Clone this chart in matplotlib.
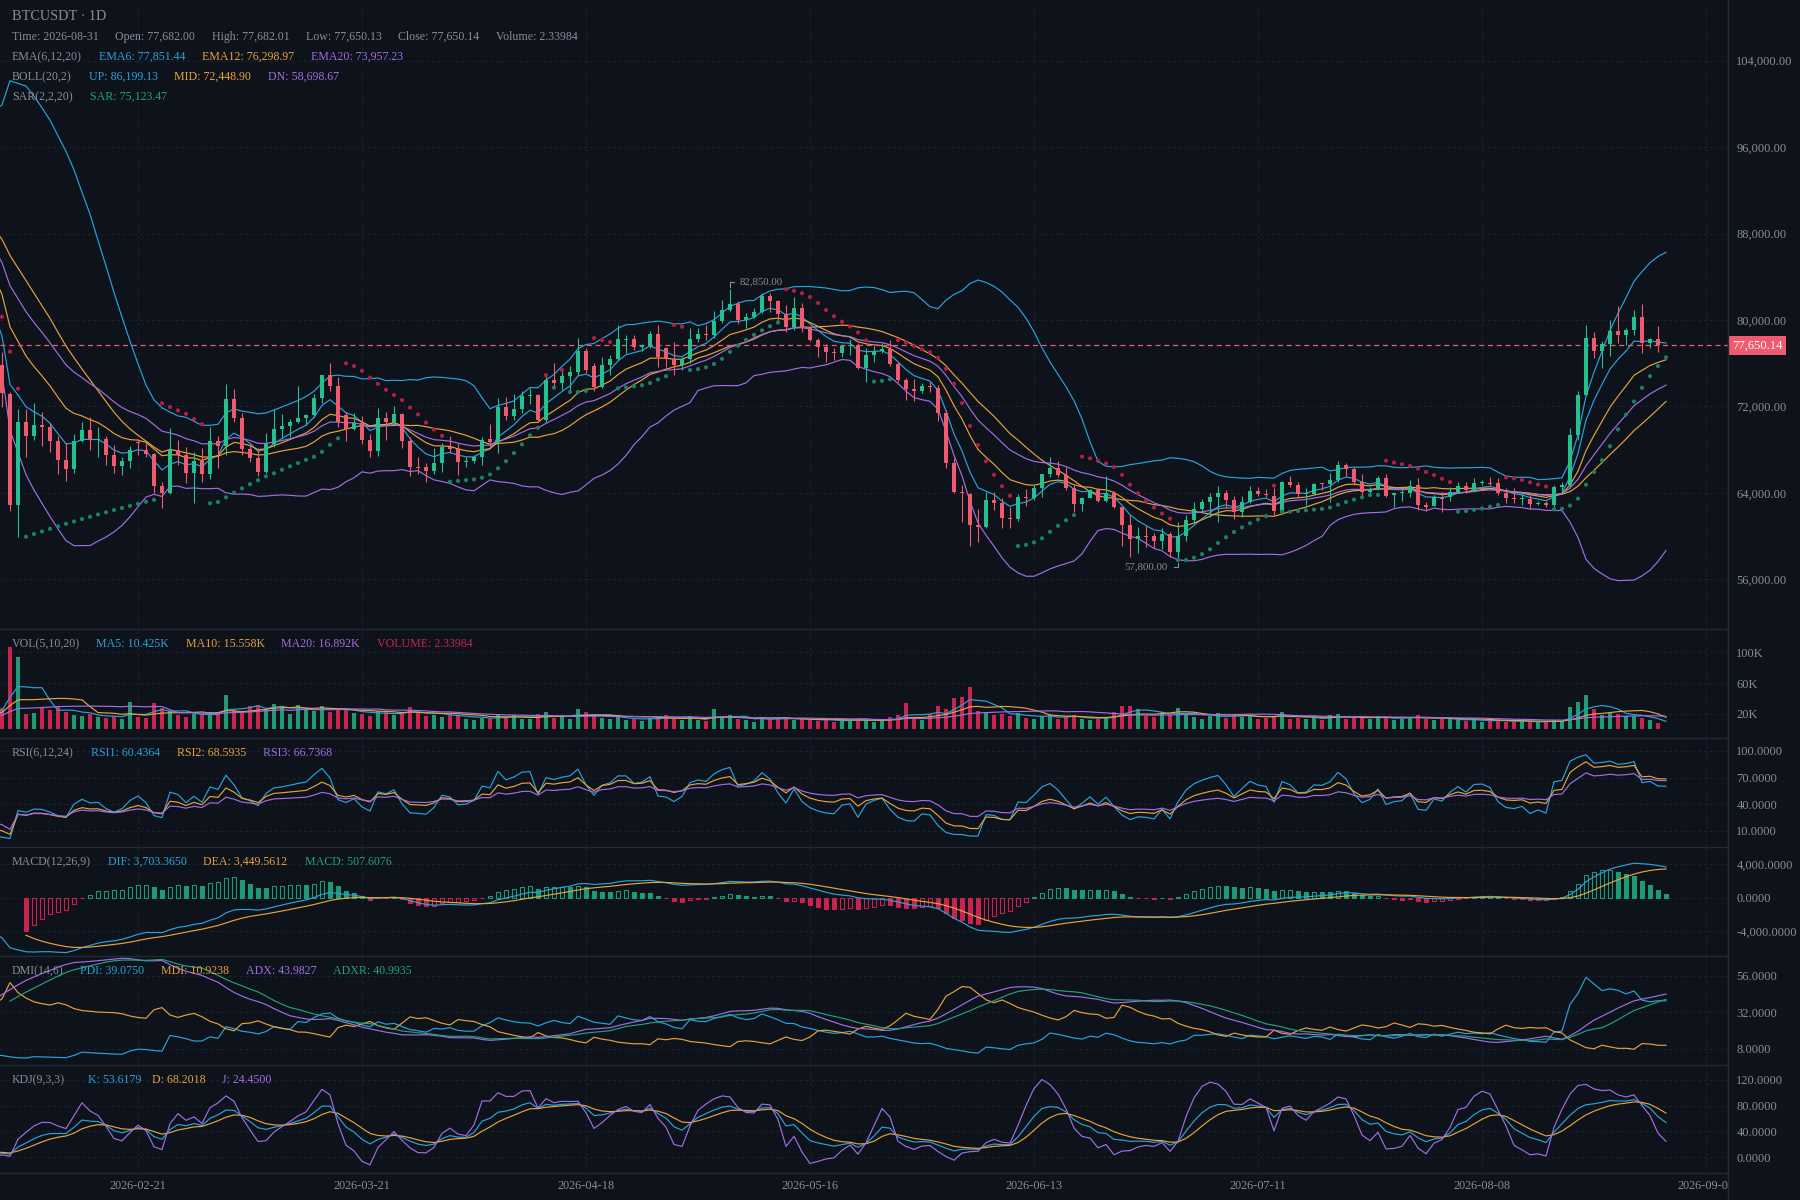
import numpy as np
import matplotlib
matplotlib.use('Agg')
import matplotlib.pyplot as plt
from matplotlib.lines import Line2D
from matplotlib.transforms import blended_transform_factory

# ---- data (prices in thousands USDT, volumes in K) ----
# candles before the visible window, only used to warm up the indicators
lead_open = [90.6, 91.2, 92.0, 91.5, 92.8, 93.5, 92.6, 93.9, 94.5, 93.7, 94.8, 93.6, 92.5, 93.8, 92.2,
             94.0, 93.1, 92.4, 93.0, 91.5, 90.4, 90.6, 89.0, 89.2, 87.5, 86.2, 83.9, 82.1, 80.2, 78.4]
lead_high = [91.9, 92.7, 92.6, 93.4, 94.2, 94.0, 94.6, 95.3, 95.0, 95.6, 95.3, 94.1, 94.5, 94.3, 94.7,
             94.6, 93.8, 93.7, 93.5, 92.1, 91.4, 91.1, 90.1, 89.8, 88.3, 86.9, 84.6, 82.9, 81.0, 79.1]
lead_low = [90.1, 90.8, 90.9, 91.1, 92.3, 92.0, 92.2, 93.4, 93.1, 93.3, 93.0, 91.8, 92.0, 91.6, 91.9,
            92.5, 91.7, 91.9, 90.9, 89.7, 89.8, 88.4, 88.3, 86.9, 85.6, 83.2, 81.4, 79.6, 77.8, 75.2]
lead_close = [91.2, 92.0, 91.5, 92.8, 93.5, 92.6, 93.9, 94.5, 93.7, 94.8, 93.6, 92.5, 93.8, 92.2, 94.0,
              93.1, 92.4, 93.0, 91.5, 90.4, 90.6, 89.0, 89.2, 87.5, 86.2, 83.9, 82.1, 80.2, 78.4, 75.84]
lead_vol = [12, 13, 11, 14, 12, 13, 12, 15, 13, 12, 14, 13, 12, 15, 14,
            16, 15, 14, 17, 16, 15, 17, 19, 18, 21, 22, 20, 24, 23, 26]

first_day = '2026-02-04'

opens = [
    75.84, 73.16, 62.92, 70.57, 69.30, 70.29, 70.10, 68.84, 67.05, 66.22,
    68.78, 69.83, 68.90, 68.98, 67.51, 66.53, 66.96, 68.75, 67.98, 67.60,
    64.65, 64.03, 67.98, 67.51, 65.88, 66.96, 65.79, 68.80, 68.38, 72.69,
    70.97, 68.10, 67.27, 65.97, 68.50, 69.92, 70.20, 70.56, 70.94, 71.20,
    72.82, 74.91, 73.90, 71.20, 69.95, 70.50, 68.90, 67.90, 70.94, 70.60,
    71.30, 68.84, 66.44, 66.44, 66.03, 66.74, 68.28, 68.04, 66.90, 66.96,
    67.30, 68.96, 68.75, 71.98, 71.12, 71.77, 72.97, 73.06, 70.75, 74.45,
    74.20, 74.82, 75.16, 77.16, 75.75, 73.83, 75.84, 76.39, 78.15, 78.24,
    77.47, 77.66, 78.70, 77.38, 76.42, 75.84, 76.36, 78.24, 78.70, 78.58,
    79.90, 80.92, 81.51, 80.00, 80.30, 80.77, 82.25, 81.79, 80.55, 79.32,
    81.08, 79.32, 78.15, 77.47, 77.07, 76.92, 77.60, 77.69, 75.59, 76.76,
    77.13, 77.32, 75.93, 74.45, 73.62, 73.46, 73.90, 73.68, 71.37, 66.80,
    64.12, 63.91, 61.04, 60.89, 63.35, 63.10, 61.72, 61.56, 63.63, 63.54,
    64.49, 65.76, 66.34, 65.67, 64.49, 62.98, 63.57, 64.28, 63.29, 64.03,
    62.73, 61.04, 59.78, 60.02, 60.02, 59.59, 60.20, 58.57, 60.02, 61.50,
    62.52, 63.14, 63.66, 64.03, 63.35, 62.27, 63.17, 64.18, 63.88, 63.72,
    62.37, 65.05, 64.74, 63.91, 63.91, 64.89, 64.80, 65.20, 66.59, 66.19,
    65.05, 64.12, 64.40, 65.36, 63.82, 63.97, 64.03, 64.74, 62.89, 62.80,
    63.50, 63.60, 64.12, 64.65, 64.28, 64.96, 64.96, 64.96, 63.97, 63.50,
    63.41, 63.41, 63.01, 63.10, 62.89, 64.59, 64.74, 69.36, 73.06, 78.37,
    77.16, 77.78, 78.98, 78.61, 79.08, 80.31, 77.90, 78.24, 77.682]
highs = [
    77.07, 73.34, 71.77, 71.73, 72.30, 71.46, 70.50, 69.27, 68.59, 69.46,
    70.60, 71.00, 70.07, 69.27, 68.44, 67.30, 68.35, 68.96, 68.59, 67.70,
    64.99, 69.98, 68.90, 68.28, 67.76, 68.19, 70.13, 69.27, 74.08, 73.59,
    71.37, 68.53, 68.16, 69.52, 71.77, 71.28, 70.84, 73.86, 71.30, 73.20,
    74.95, 75.99, 74.70, 71.49, 71.36, 71.15, 69.50, 71.89, 71.46, 72.05,
    71.37, 69.20, 67.30, 66.80, 68.19, 68.60, 69.27, 68.60, 67.36, 67.50,
    69.20, 70.38, 72.80, 72.90, 73.16, 73.43, 73.74, 73.16, 74.90, 76.05,
    75.38, 75.75, 78.33, 77.41, 76.05, 76.55, 76.76, 79.54, 78.61, 78.61,
    77.75, 79.01, 79.54, 77.47, 77.99, 76.60, 79.23, 79.23, 79.54, 80.83,
    81.85, 82.85, 81.76, 80.62, 81.08, 82.47, 82.47, 81.85, 81.39, 82.10,
    81.60, 79.38, 78.37, 77.78, 77.38, 77.69, 78.20, 77.84, 77.38, 77.60,
    77.90, 78.15, 76.15, 74.60, 74.54, 74.14, 74.30, 73.99, 71.68, 67.20,
    64.74, 64.03, 62.52, 64.12, 64.12, 63.50, 62.73, 63.88, 64.37, 64.74,
    65.76, 67.36, 66.96, 66.37, 64.74, 63.66, 64.34, 64.43, 65.57, 64.22,
    62.83, 61.96, 60.82, 60.95, 60.27, 60.73, 60.42, 61.35, 61.96, 63.20,
    63.44, 63.97, 64.68, 64.28, 63.72, 63.72, 64.65, 64.59, 64.34, 64.43,
    65.14, 65.57, 65.05, 64.43, 64.96, 64.96, 65.82, 66.99, 66.74, 66.37,
    65.76, 64.58, 65.57, 65.76, 64.03, 64.52, 65.20, 65.36, 63.13, 63.82,
    64.06, 64.58, 65.05, 65.05, 65.36, 65.20, 65.45, 65.36, 64.43, 64.43,
    63.97, 63.82, 63.23, 63.29, 64.74, 65.05, 69.98, 73.43, 79.54, 78.92,
    78.09, 79.99, 81.30, 79.29, 80.92, 81.48, 78.30, 79.45, 77.68201]
lows = [
    71.92, 62.37, 59.96, 67.36, 68.90, 68.38, 67.82, 65.76, 65.11, 65.88,
    68.75, 67.98, 67.36, 66.59, 65.85, 65.66, 66.28, 67.51, 67.36, 63.97,
    62.58, 63.87, 66.59, 64.95, 63.04, 65.05, 65.26, 66.28, 67.51, 70.60,
    67.51, 66.90, 65.60, 65.82, 68.28, 69.06, 69.20, 70.44, 70.29, 71.06,
    72.30, 73.46, 70.10, 68.84, 69.82, 68.50, 67.36, 67.45, 68.90, 70.44,
    68.16, 65.57, 65.76, 65.05, 65.80, 65.97, 67.67, 65.66, 66.40, 66.80,
    66.60, 68.28, 67.73, 70.75, 70.75, 71.43, 72.20, 70.60, 70.60, 73.74,
    73.53, 73.34, 74.91, 75.07, 73.43, 73.68, 74.91, 76.30, 76.98, 77.23,
    77.16, 77.38, 75.68, 75.62, 74.91, 75.38, 75.99, 78.00, 78.15, 78.30,
    79.69, 80.86, 79.60, 79.29, 80.15, 80.62, 80.77, 79.91, 78.92, 79.08,
    78.92, 78.06, 76.61, 76.15, 76.30, 76.61, 76.76, 75.44, 74.30, 76.15,
    76.92, 75.78, 74.30, 72.60, 72.51, 73.28, 73.37, 70.69, 66.28, 63.97,
    61.35, 59.10, 59.50, 60.80, 62.43, 60.73, 60.73, 61.44, 62.83, 63.35,
    63.66, 65.45, 65.51, 64.28, 62.27, 62.37, 63.50, 63.20, 63.20, 62.58,
    59.10, 58.11, 58.42, 58.97, 58.88, 58.82, 58.11, 57.80, 59.59, 61.25,
    62.27, 61.75, 61.35, 62.58, 61.56, 61.75, 63.04, 63.72, 63.60, 61.96,
    62.27, 64.58, 63.66, 62.89, 63.82, 64.28, 63.20, 65.05, 65.57, 64.74,
    63.82, 63.82, 64.28, 63.60, 62.73, 63.26, 63.66, 62.43, 62.33, 62.80,
    62.27, 63.29, 64.00, 63.97, 64.12, 64.74, 64.74, 63.82, 63.04, 63.04,
    62.89, 62.49, 62.89, 62.73, 62.73, 64.12, 64.59, 68.90, 72.97, 76.45,
    75.53, 76.67, 77.84, 77.69, 78.61, 76.98, 77.44, 77.07, 77.65013]
closes = [
    73.22, 62.92, 70.57, 69.30, 70.29, 70.10, 68.84, 67.05, 66.22, 68.78,
    69.83, 68.90, 68.98, 67.51, 66.53, 66.96, 67.98, 68.60, 67.60, 64.68,
    64.03, 67.98, 67.51, 65.88, 66.96, 65.79, 68.80, 68.38, 72.69, 70.97,
    68.10, 67.27, 65.97, 68.50, 69.92, 70.20, 70.56, 70.94, 71.20, 72.82,
    74.91, 73.90, 70.53, 69.92, 70.50, 68.90, 67.90, 70.94, 70.60, 71.30,
    68.84, 66.44, 66.28, 66.03, 66.74, 68.28, 68.04, 66.90, 66.96, 67.30,
    68.90, 68.75, 71.98, 71.12, 71.77, 72.97, 73.10, 70.75, 74.45, 74.20,
    74.82, 75.16, 77.16, 75.38, 73.83, 75.84, 76.39, 78.24, 78.24, 77.47,
    77.66, 78.70, 76.55, 76.42, 75.84, 76.36, 78.24, 78.70, 78.58, 79.90,
    80.92, 81.51, 80.00, 80.30, 80.77, 82.25, 81.79, 80.55, 79.32, 81.08,
    79.32, 78.15, 77.47, 77.07, 76.92, 77.60, 77.70, 75.59, 76.76, 77.13,
    77.32, 75.93, 74.45, 73.62, 73.46, 73.93, 73.77, 71.37, 66.80, 64.12,
    63.97, 61.04, 60.89, 63.35, 63.10, 61.72, 61.56, 63.63, 63.54, 64.49,
    65.76, 66.34, 65.67, 64.49, 62.98, 63.57, 64.28, 63.29, 64.03, 62.73,
    61.04, 59.78, 60.02, 59.90, 59.59, 60.20, 58.57, 60.02, 61.50, 62.52,
    63.14, 63.66, 64.03, 63.35, 62.27, 63.17, 64.18, 63.88, 63.78, 62.37,
    65.05, 64.74, 63.91, 63.97, 64.83, 64.80, 65.20, 66.59, 66.19, 65.05,
    64.12, 64.40, 65.36, 63.72, 63.97, 64.05, 64.68, 62.89, 62.73, 63.60,
    63.41, 64.12, 64.65, 64.28, 64.96, 65.00, 64.83, 63.97, 63.50, 63.41,
    63.50, 62.98, 63.10, 62.89, 64.59, 64.74, 69.36, 73.06, 78.37, 77.16,
    77.78, 78.98, 78.61, 79.08, 80.31, 77.90, 78.24, 77.68, 77.65014]
volumes = [
    28, 107, 94, 20, 21, 28, 25, 29, 22, 19,
    17, 20, 16, 15, 17, 14, 35, 16, 15, 34,
    28, 24, 18, 16, 20, 19, 22, 20, 44, 25,
    22, 30, 32, 26, 33, 28, 20, 31, 26, 24,
    30, 22, 27, 25, 21, 20, 17, 24, 22, 19,
    20, 29, 23, 17, 18, 16, 20, 18, 14, 12,
    15, 13, 20, 16, 18, 14, 13, 20, 22, 15,
    16, 14, 26, 22, 18, 15, 13, 17, 12, 14,
    11, 15, 16, 18, 13, 12, 17, 12, 11, 26,
    15, 18, 13, 12, 10, 16, 14, 15, 13, 12,
    14, 12, 11, 13, 10, 11, 12, 14, 12, 10,
    11, 16, 19, 34, 14, 12, 20, 30, 26, 40,
    42, 55, 24, 22, 18, 20, 17, 21, 15, 14,
    17, 19, 14, 16, 18, 13, 12, 14, 16, 22,
    30, 30, 26, 17, 16, 22, 19, 28, 18, 16,
    14, 17, 21, 15, 18, 16, 19, 14, 15, 17,
    22, 14, 15, 13, 16, 12, 18, 20, 14, 16,
    15, 13, 17, 16, 12, 14, 16, 19, 13, 12,
    14, 13, 12, 11, 13, 10, 11, 12, 10, 9,
    11, 10, 9, 10, 12, 11, 29, 36, 44, 26,
    19, 22, 20, 17, 17, 15, 12, 8, 0.00234]

date_labels = ['2026-02-21', '2026-03-21', '2026-04-18', '2026-05-16',
               '2026-06-13', '2026-07-11', '2026-08-08', '2026-09-05']
price_ticks = [56000, 64000, 72000, 80000, 88000, 96000, 104000]
vol_ticks = [20, 60, 100]
rsi_ticks = [10, 40, 70, 100]
macd_ticks = [-4000, 0, 4000]
dmi_ticks = [8, 32, 56]
kdj_ticks = [0, 40, 80, 120]

# ---- colours ----
BG = '#0e121a'
GRID = '#1c2330'
SEP = '#242a35'
TXT = '#878e99'
BLUE = '#2ba3da'
ORANGE = '#e6a23c'
PURPLE = '#a06ee4'
TEAL = '#23a07c'
UP = '#26c08e'
DOWN = '#f05a6e'
VUP = '#1f9a74'
VDOWN = '#c8244e'
SAR_UP = '#1c7f63'
SAR_DN = '#b21e44'

plt.rcParams['font.family'] = ['Liberation Serif', 'DejaVu Serif']
LABEL_FS = 8.6
AXIS_FS = 9.0

o = np.array(lead_open + opens) * 1000
h = np.array(lead_high + highs) * 1000
l = np.array(lead_low + lows) * 1000
c = np.array(lead_close + closes) * 1000
v = np.array(lead_vol + volumes, dtype=float)
n_lead = len(lead_close)
N = len(c)
idx = np.arange(N) - n_lead


# ---- indicators (klinecharts style) ----
def sma(x, n):
    out = np.full(len(x), np.nan)
    for i in range(n - 1, len(x)):
        out[i] = np.mean(x[i - n + 1:i + 1])
    return out


def ema(x, n):
    out = np.full(len(x), np.nan)
    start = int(np.argmax(~np.isnan(x)))
    if len(x) - start < n:
        return out
    out[start + n - 1] = np.mean(x[start:start + n])
    k = 2.0 / (n + 1)
    for i in range(start + n, len(x)):
        out[i] = k * x[i] + (1 - k) * out[i - 1]
    return out


def rsi(x, n):
    # SMA(X, N, 1) smoothing of gains and losses
    d = np.diff(x, prepend=x[0])
    gain = np.maximum(d, 0)
    loss = np.maximum(-d, 0)
    out = np.full(len(x), np.nan)
    ag = al = 0.0
    for i in range(len(x)):
        ag = (gain[i] + (n - 1) * ag) / n
        al = (loss[i] + (n - 1) * al) / n
        if i >= n - 1:
            out[i] = 100 * ag / (ag + al) if ag + al > 0 else 0
    return out


def sar(h, l, start_af=0.02, step=0.02, max_af=0.2):
    out = np.zeros(len(h))
    af, ep, rising, s = start_af, None, False, 0.0
    for i in range(len(h)):
        prev = s
        if rising:
            if ep is None or ep < h[i]:
                ep = h[i]
                af = min(af + step, max_af)
            s = prev + af * (ep - prev)
            low_min = min(l[max(1, i) - 1], l[i])
            if s > l[i]:
                s = ep
                af, ep, rising = start_af, None, False
            elif s > low_min:
                s = low_min
        else:
            if ep is None or ep > l[i]:
                ep = l[i]
                af = min(af + step, max_af)
            s = prev + af * (ep - prev)
            high_max = max(h[max(1, i) - 1], h[i])
            if s < h[i]:
                s = ep
                af, ep, rising = 0.0, None, True
            elif s < high_max:
                s = high_max
        out[i] = s
    return out


def dmi(h, l, c, n=14, m=6):
    size = len(c)
    pdi, mdi, adx, adxr = (np.full(size, np.nan) for _ in range(4))
    trs = hs = ls = 0.0
    mtr = dmp = dmm = 0.0
    dxsum = 0.0
    a = 0.0
    for i in range(size):
        j = i - 1 if i > 0 else i
        tr = max(h[i] - l[i], abs(h[i] - c[j]), abs(c[j] - l[i]))
        hh = h[i] - h[j]
        ll = l[j] - l[i]
        dp = hh if (hh > 0 and hh > ll) else 0
        dm = ll if (ll > 0 and ll > hh) else 0
        trs += tr
        hs += dp
        ls += dm
        if i >= n - 1:
            if i > n - 1:
                mtr = mtr - mtr / n + tr
                dmp = dmp - dmp / n + dp
                dmm = dmm - dmm / n + dm
            else:
                mtr, dmp, dmm = trs, hs, ls
            p = dmp * 100 / mtr
            q = dmm * 100 / mtr
            dx = abs(q - p) / (p + q) * 100 if p + q else 0
            dxsum += dx
            pdi[i], mdi[i] = p, q
            if i >= 2 * n - 2:
                a = dxsum / n if i == 2 * n - 2 else (a * (n - 1) + dx) / n
                adx[i] = a
                if i >= 2 * n + m - 3:
                    adxr[i] = (adx[i - (m - 1)] + a) / 2
    return pdi, mdi, adx, adxr


def kdj(h, l, c, n=9):
    k_line, d_line, j_line = (np.full(len(c), np.nan) for _ in range(3))
    kp = dp = 50.0
    for i in range(n - 1, len(c)):
        hn = h[i - n + 1:i + 1].max()
        ln = l[i - n + 1:i + 1].min()
        rsv = (c[i] - ln) / ((hn - ln) or 1) * 100
        kp = (2 * kp + rsv) / 3
        dp = (2 * dp + kp) / 3
        k_line[i], d_line[i], j_line[i] = kp, dp, 3 * kp - 2 * dp
    return k_line, d_line, j_line


ema6, ema12, ema20 = ema(c, 6), ema(c, 12), ema(c, 20)
mid = sma(c, 20)
md = np.array([np.std(c[i - 19:i + 1]) if i >= 19 else np.nan for i in range(N)])
boll_up, boll_dn = mid + 2 * md, mid - 2 * md
sar_vals = sar(h, l)
vma5, vma10, vma20 = sma(v, 5), sma(v, 10), sma(v, 20)
rsi1, rsi2, rsi3 = rsi(c, 6), rsi(c, 12), rsi(c, 24)
dif = ema(c, 12) - ema(c, 26)
dea = ema(dif, 9)
macd = (dif - dea) * 2
pdi, mdi, adx, adxr = dmi(h, l, c)
k_line, d_line, j_line = kdj(h, l, c)

# ---- figure layout (pixel based) ----
W, H = 1800, 1200
PLOT_R = 1728
XMIN, XMAX = -0.25, 215.75
day0 = np.datetime64(first_day)
date_pos = [int((np.datetime64(d) - day0).astype(int)) for d in date_labels]

fig = plt.figure(figsize=(W / 100, H / 100), dpi=100, facecolor=BG)


def px_axes(top, bottom):
    return fig.add_axes([0, 1 - bottom / H, PLOT_R / W, (bottom - top) / H])


def setup(ax, ticks, labels, ylim, top_line=True):
    ax.set_facecolor(BG)
    ax.set_xlim(XMIN, XMAX)
    ax.set_ylim(*ylim)
    for t in ticks:
        ax.axhline(t, color=GRID, lw=0.7, ls=(0, (3, 3)), zorder=0)
    for p in date_pos:
        ax.axvline(p, color=GRID, lw=0.7, ls=(0, (3, 3)), zorder=0)
    ax.set_xticks([])
    ax.set_yticks(ticks)
    ax.set_yticklabels(labels)
    ax.yaxis.tick_right()
    ax.tick_params(axis='y', length=0, pad=6, labelsize=AXIS_FS, labelcolor=TXT)
    for side, sp in ax.spines.items():
        sp.set_color(SEP)
        sp.set_linewidth(1.0)
        sp.set_visible(side == 'right' or (side == 'top' and top_line))


def row(y, items, size=LABEL_FS):
    for x, s, col in items:
        fig.text(x / W, 1 - y / H, s, color=col, fontsize=size, va='center', ha='left')


# ---- main price pane ----
ax = px_axes(0, 629)
setup(ax, price_ticks, ['{:,.2f}'.format(t) for t in price_ticks], (51420, 109597), top_line=False)

ax.plot(idx, boll_up, color=BLUE, lw=0.85)
ax.plot(idx, mid, color=ORANGE, lw=0.85)
ax.plot(idx, boll_dn, color=PURPLE, lw=0.85)
ax.plot(idx, ema6, color=BLUE, lw=0.85)
ax.plot(idx, ema12, color=ORANGE, lw=0.85)
ax.plot(idx, ema20, color=PURPLE, lw=0.85)

up = c >= o
ccol = np.where(up, UP, DOWN)
ax.vlines(idx, l, h, colors=ccol, lw=0.8, zorder=3)
ax.bar(idx, np.maximum(np.abs(c - o), 70), bottom=np.minimum(o, c), width=0.62,
       color=ccol, linewidth=0, zorder=4)

half = (h + l) / 2
ax.scatter(idx, sar_vals, s=9, c=np.where(sar_vals < half, SAR_UP, SAR_DN), linewidths=0, zorder=5)

last = c[-1]
ax.axhline(last, color=DOWN, lw=0.9, ls=(0, (4, 3)), zorder=2)
tr = blended_transform_factory(ax.transAxes, ax.transData)
ax.text(1.0025, last, '{:,.2f}'.format(last), transform=tr, color='white', fontsize=AXIS_FS,
        va='center', ha='left', clip_on=False,
        bbox=dict(boxstyle='square,pad=0.28', fc=DOWN, ec='none'))

# highest / lowest marks
hi_i = int(np.argmax(h[n_lead:])) + n_lead
lo_i = int(np.argmin(l[n_lead:])) + n_lead
hx, hy = idx[hi_i], h[hi_i]
ax.plot([hx, hx, hx + 0.55], [hy + 230, hy + 650, hy + 650], color=TXT, lw=0.8)
ax.text(hx + 1.25, hy + 690, '{:,.2f}'.format(hy), color=TXT, fontsize=7.8, va='center', ha='left')
lx, ly = idx[lo_i], l[lo_i]
ax.plot([lx, lx, lx - 0.55], [ly - 230, ly - 650, ly - 650], color=TXT, lw=0.8)
ax.text(lx - 1.25, ly - 620, '{:,.2f}'.format(ly), color=TXT, fontsize=7.8, va='center', ha='right')

row(16, [(12, 'BTCUSDT · 1D', TXT)], size=10.3)
row(37, [(12, 'Time: 2026-08-31', TXT), (115, 'Open: 77,682.00', TXT), (212, 'High: 77,682.01', TXT),
         (306, 'Low: 77,650.13', TXT), (398, 'Close: 77,650.14', TXT), (496, 'Volume: 2.33984', TXT)])
row(57, [(12, 'EMA(6,12,20)', TXT), (99, 'EMA6: 77,851.44', BLUE), (202, 'EMA12: 76,298.97', ORANGE),
         (311, 'EMA20: 73,957.23', PURPLE)])
row(77, [(12, 'BOLL(20,2)', TXT), (89, 'UP: 86,199.13', BLUE), (174, 'MID: 72,448.90', ORANGE),
         (268, 'DN: 58,698.67', PURPLE)])
row(97, [(12, 'SAR(2,2,20)', TXT), (90, 'SAR: 75,123.47', TEAL)])

# ---- volume pane ----
axv = px_axes(629, 738)
setup(axv, vol_ticks, ['{}K'.format(t) for t in vol_ticks], (-11.3, 130.2))
axv.bar(idx, v, width=0.6, color=np.where(up, VUP, VDOWN), linewidth=0)
axv.plot(idx, vma5, color=BLUE, lw=0.85)
axv.plot(idx, vma10, color=ORANGE, lw=0.85)
axv.plot(idx, vma20, color=PURPLE, lw=0.85)
row(644, [(12, 'VOL(5,10,20)', TXT), (96, 'MA5: 10.425K', BLUE), (186, 'MA10: 15.558K', ORANGE),
          (281, 'MA20: 16.892K', PURPLE), (377, 'VOLUME: 2.33984', VDOWN)])

# ---- RSI pane ----
axr = px_axes(738, 847)
setup(axr, rsi_ticks, ['{:.4f}'.format(t) for t in rsi_ticks], (-8, 114.6))
axr.plot(idx, rsi1, color=BLUE, lw=0.85)
axr.plot(idx, rsi2, color=ORANGE, lw=0.85)
axr.plot(idx, rsi3, color=PURPLE, lw=0.85)
row(753, [(12, 'RSI(6,12,24)', TXT), (91, 'RSI1: 60.4364', BLUE), (177, 'RSI2: 68.5935', ORANGE),
          (263, 'RSI3: 66.7368', PURPLE)])

# ---- MACD pane ----
axm = px_axes(847, 956)
setup(axm, macd_ticks, ['{:,.4f}'.format(t) for t in macd_ticks], (-7008, 6105))
prev = np.concatenate([[-np.inf], macd[:-1]])
mcol = np.where(macd > 0, VUP, VDOWN)
face = [col if not (pm < m) else 'none' for col, pm, m in zip(mcol, prev, macd)]
axm.bar(idx, macd, width=0.6, color=face, edgecolor=mcol, linewidth=0.8)
axm.plot(idx, dif, color=BLUE, lw=0.85)
axm.plot(idx, dea, color=ORANGE, lw=0.85)
row(862, [(12, 'MACD(12,26,9)', TXT), (108, 'DIF: 3,703.3650', BLUE), (203, 'DEA: 3,449.5612', ORANGE),
          (305, 'MACD: 507.6076', TEAL)])

# ---- DMI pane ----
axd = px_axes(956, 1065)
setup(axd, dmi_ticks, ['{:.4f}'.format(t) for t in dmi_ticks], (-2.5, 69))
axd.plot(idx, pdi, color=BLUE, lw=0.85)
axd.plot(idx, mdi, color=ORANGE, lw=0.85)
axd.plot(idx, adx, color=PURPLE, lw=0.85)
axd.plot(idx, adxr, color=TEAL, lw=0.85)
row(971, [(12, 'DMI(14,6)', TXT), (80, 'PDI: 39.0750', BLUE), (161, 'MDI: 10.9238', ORANGE),
          (246, 'ADX: 43.9827', PURPLE), (333, 'ADXR: 40.9935', TEAL)])

# ---- KDJ pane ----
axk = px_axes(1065, 1173)
setup(axk, kdj_ticks, ['{:.4f}'.format(t) for t in kdj_ticks], (-24.7, 143.3))
axk.spines['bottom'].set_visible(True)
axk.plot(idx, k_line, color=BLUE, lw=0.85)
axk.plot(idx, d_line, color=ORANGE, lw=0.85)
axk.plot(idx, j_line, color=PURPLE, lw=0.85)
row(1080, [(12, 'KDJ(9,3,3)', TXT), (88, 'K: 53.6179', BLUE), (152, 'D: 68.2018', ORANGE),
           (222, 'J: 24.4500', PURPLE)])

# ---- time axis ----
axx = px_axes(1173, 1200)
axx.set_xlim(XMIN, XMAX)
axx.set_ylim(0, 1)
axx.axis('off')
for p, lbl in zip(date_pos, date_labels):
    axx.text(p, 0.52, lbl, color=TXT, fontsize=8.8, ha='center', va='center', clip_on=True)

fig.add_artist(Line2D([PLOT_R / W, PLOT_R / W], [0, 1], color=SEP, lw=1.0))

fig.savefig('out.png', dpi=100, facecolor=BG)
